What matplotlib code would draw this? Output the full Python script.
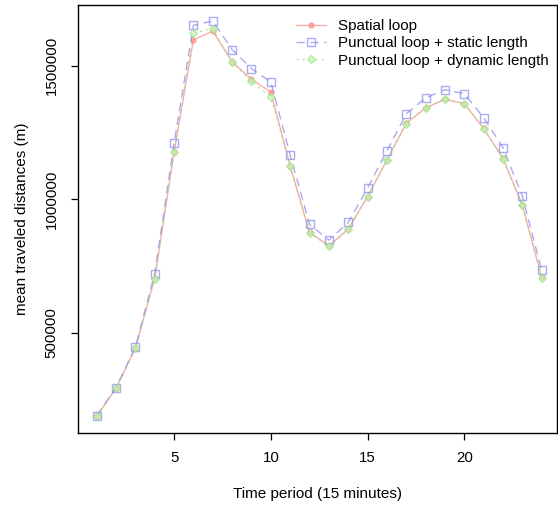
import numpy as np
import matplotlib.pyplot as plt

plt.rcParams['font.family'] = ['Liberation Sans', 'DejaVu Sans']

# time periods (15 minutes each)
t = np.arange(1, 25)

spatial = [188000, 293000, 443000, 704000, 1177000, 1597000, 1629000, 1514000,
           1449000, 1401000, 1124000, 876000, 826000, 888000, 1010000, 1147000,
           1284000, 1342000, 1374000, 1358000, 1265000, 1153000, 978000, 708000]
static_len = [190000, 295000, 446000, 722000, 1210000, 1651000, 1667000, 1560000,
              1489000, 1439000, 1165000, 906000, 847000, 913000, 1042000, 1181000,
              1320000, 1379000, 1410000, 1395000, 1305000, 1193000, 1011000, 734000]
dynamic_len = [188000, 292000, 442000, 703000, 1176000, 1622000, 1638000, 1513000,
               1441000, 1383000, 1123000, 874000, 824000, 887000, 1009000, 1146000,
               1283000, 1341000, 1374000, 1358000, 1264000, 1152000, 977000, 707000]

labels = ['Spatial loop', 'Punctual loop + static length', 'Punctual loop + dynamic length']

fig = plt.figure(figsize=(5.58, 5.08), dpi=100)
ax = fig.add_axes([0.140, 0.148, 0.8575, 0.842])

ax.plot(t, spatial, color='#ff8f8f', lw=1.0, ls='-', marker='o', ms=3.5,
        alpha=0.75, label=labels[0])
ax.plot(t, static_len, color='#8f8fef', lw=1.0, ls=(0, (6, 4)), marker='s', ms=6,
        mfc='none', mew=1.0, alpha=0.75, label=labels[1])
ax.plot(t, dynamic_len, color='#8fe67a', lw=1.0, ls=(0, (1.5, 3)), marker='D', ms=4.5,
        mfc='#cdf3bd', mew=0.8, alpha=0.75, label=labels[2])

ax.set_xlim(0.04, 24.77)
ax.set_ylim(125900, 1726600)
ax.set_xticks([5, 10, 15, 20])
ax.set_yticks([500000, 1000000, 1500000])
ax.set_yticklabels(['500000', '1000000', '1500000'], rotation=90, va='center')
ax.tick_params(labelsize=10.8, length=5, width=0.9, pad=4)
ax.tick_params(axis='x', pad=8)
ax.tick_params(axis='y', pad=9)
for s in ax.spines.values():
    s.set_linewidth(1.0)

ax.set_xlabel('Time period (15 minutes)', fontsize=11, labelpad=16)
ax.set_ylabel('mean traveled distances (m)', fontsize=11, labelpad=11)

ax.legend(loc='upper right', bbox_to_anchor=(1.0, 0.985), frameon=False,
          fontsize=10.9, handlelength=2.0, labelspacing=0.22, handletextpad=0.8,
          borderaxespad=0.1)

fig.savefig('out.png', dpi=100)
